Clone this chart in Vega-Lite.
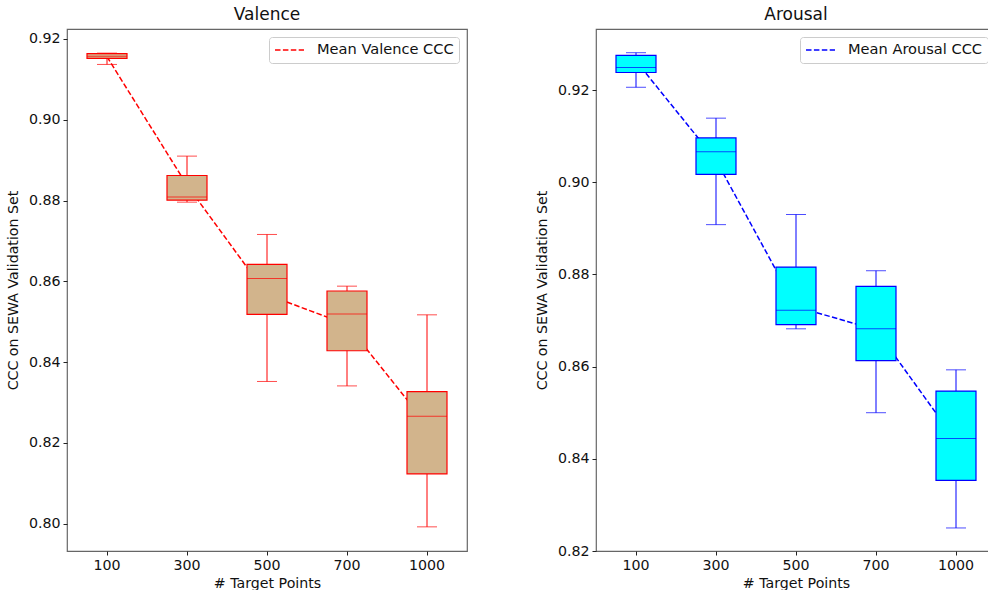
{
  "$schema": "https://vega.github.io/schema/vega-lite/v6.json",
  "background": "white",
  "padding": {"left": 5, "top": 5, "right": 0, "bottom": 0},
  "spacing": 66,
  "datasets": {
    "valence": [
      {"points": "100", "lo": 0.9137, "q1": 0.9152, "med": 0.9157, "q3": 0.9164, "hi": 0.9165, "mean": 0.9156, "series": "Mean Valence CCC"},
      {"points": "300", "lo": 0.8796, "q1": 0.8801, "med": 0.8809, "q3": 0.8862, "hi": 0.8910, "mean": 0.8838, "series": "Mean Valence CCC"},
      {"points": "500", "lo": 0.8352, "q1": 0.8518, "med": 0.8607, "q3": 0.8642, "hi": 0.8716, "mean": 0.8567, "series": "Mean Valence CCC"},
      {"points": "700", "lo": 0.8341, "q1": 0.8428, "med": 0.8519, "q3": 0.8576, "hi": 0.8588, "mean": 0.8493, "series": "Mean Valence CCC"},
      {"points": "1000", "lo": 0.7992, "q1": 0.8123, "med": 0.8266, "q3": 0.8327, "hi": 0.8517, "mean": 0.8245, "series": "Mean Valence CCC"}
    ],
    "arousal": [
      {"points": "100", "lo": 0.9206, "q1": 0.9238, "med": 0.9249, "q3": 0.9275, "hi": 0.9281, "mean": 0.9263, "series": "Mean Arousal CCC"},
      {"points": "300", "lo": 0.8908, "q1": 0.9017, "med": 0.9066, "q3": 0.9096, "hi": 0.9139, "mean": 0.9048, "series": "Mean Arousal CCC"},
      {"points": "500", "lo": 0.8682, "q1": 0.8691, "med": 0.8722, "q3": 0.8816, "hi": 0.8930, "mean": 0.8730, "series": "Mean Arousal CCC"},
      {"points": "700", "lo": 0.8500, "q1": 0.8613, "med": 0.8682, "q3": 0.8774, "hi": 0.8808, "mean": 0.8680, "series": "Mean Arousal CCC"},
      {"points": "1000", "lo": 0.8250, "q1": 0.8353, "med": 0.8444, "q3": 0.8547, "hi": 0.8593, "mean": 0.8439, "series": "Mean Arousal CCC"}
    ]
  },
  "config": {
    "font": "DejaVu Sans",
    "view": {"stroke": "#666666", "strokeWidth": 1.2},
    "axis": {
      "grid": false, "domain": false, "tickColor": "#222222", "tickSize": 4, "tickWidth": 1,
      "labelFont": "DejaVu Sans", "labelFontSize": 14.2, "labelColor": "#111111", "labelPadding": 3,
      "titleFont": "DejaVu Sans", "titleFontSize": 14.2, "titleFontWeight": "normal", "titleColor": "#111111"
    },
    "title": {"font": "DejaVu Sans", "fontSize": 17, "fontWeight": "normal", "color": "#111111", "offset": 5, "baseline": "alphabetic"},
    "legend": {
      "orient": "top-right", "offset": 8, "strokeColor": "#cccccc", "cornerRadius": 3, "padding": 5,
      "fillColor": "white", "symbolType": "stroke", "symbolSize": 840, "symbolStrokeWidth": 1.5, "clipHeight": 16,
      "symbolDash": [5.5, 2.4], "labelFont": "DejaVu Sans", "labelFontSize": 14.6, "labelColor": "#111111",
      "labelOffset": 12, "labelLimit": 400
    }
  },
  "hconcat": [
    {
      "width": 400, "height": 522,
      "title": {"text": "Valence"},
      "data": {"name": "valence"},
      "encoding": {
        "x": {"field": "points", "type": "ordinal", "sort": ["100", "300", "500", "700", "1000"],
              "scale": {"type": "band", "paddingInner": 0, "paddingOuter": 0},
              "axis": {"title": "# Target Points", "labelAngle": 0, "titlePadding": 4}}
      },
      "layer": [
        {"mark": {"type": "line", "strokeDash": [5.5, 2.4], "strokeWidth": 1.5},
         "encoding": {
           "y": {"field": "mean", "type": "quantitative",
                 "scale": {"domain": [0.79322, 0.922474], "nice": false, "zero": false},
                 "axis": {"title": "CCC on SEWA Validation Set", "values": [0.80, 0.82, 0.84, 0.86, 0.88, 0.90, 0.92], "format": ".2f", "titlePadding": 8}},
           "color": {"field": "series", "type": "nominal", "scale": {"range": ["#ff0000"]}, "legend": {"title": null}}
         }},
        {"mark": {"type": "rule", "color": "#ff0000", "strokeWidth": 1},
         "encoding": {"y": {"field": "lo", "type": "quantitative"}, "y2": {"field": "hi"}}},
        {"mark": {"type": "bar", "fill": "#d2b48c", "stroke": "#ff0000", "strokeWidth": 1.2, "width": {"band": 0.5}},
         "encoding": {"y": {"field": "q1", "type": "quantitative"}, "y2": {"field": "q3"}}},
        {"mark": {"type": "tick", "color": "#ff0000", "size": 40, "thickness": 1},
         "encoding": {"y": {"field": "med", "type": "quantitative"}}},
        {"mark": {"type": "tick", "color": "#ff0000", "size": 20, "thickness": 1},
         "encoding": {"y": {"field": "lo", "type": "quantitative"}}},
        {"mark": {"type": "tick", "color": "#ff0000", "size": 20, "thickness": 1},
         "encoding": {"y": {"field": "hi", "type": "quantitative"}}}
      ]
    },
    {
      "width": 400, "height": 522,
      "title": {"text": "Arousal"},
      "data": {"name": "arousal"},
      "encoding": {
        "x": {"field": "points", "type": "ordinal", "sort": ["100", "300", "500", "700", "1000"],
              "scale": {"type": "band", "paddingInner": 0, "paddingOuter": 0},
              "axis": {"title": "# Target Points", "labelAngle": 0, "titlePadding": 4}}
      },
      "layer": [
        {"mark": {"type": "line", "strokeDash": [5.5, 2.4], "strokeWidth": 1.5},
         "encoding": {
           "y": {"field": "mean", "type": "quantitative",
                 "scale": {"domain": [0.82, 0.93324], "nice": false, "zero": false},
                 "axis": {"title": "CCC on SEWA Validation Set", "values": [0.82, 0.84, 0.86, 0.88, 0.90, 0.92], "format": ".2f", "titlePadding": 8}},
           "color": {"field": "series", "type": "nominal", "scale": {"range": ["#0000ff"]}, "legend": {"title": null}}
         }},
        {"mark": {"type": "rule", "color": "#0000ff", "strokeWidth": 1},
         "encoding": {"y": {"field": "lo", "type": "quantitative"}, "y2": {"field": "hi"}}},
        {"mark": {"type": "bar", "fill": "#00ffff", "stroke": "#0000ff", "strokeWidth": 1.2, "width": {"band": 0.5}},
         "encoding": {"y": {"field": "q1", "type": "quantitative"}, "y2": {"field": "q3"}}},
        {"mark": {"type": "tick", "color": "#0000ff", "size": 40, "thickness": 1},
         "encoding": {"y": {"field": "med", "type": "quantitative"}}},
        {"mark": {"type": "tick", "color": "#0000ff", "size": 20, "thickness": 1},
         "encoding": {"y": {"field": "lo", "type": "quantitative"}}},
        {"mark": {"type": "tick", "color": "#0000ff", "size": 20, "thickness": 1},
         "encoding": {"y": {"field": "hi", "type": "quantitative"}}}
      ]
    }
  ],
  "resolve": {"scale": {"y": "independent", "color": "independent", "x": "independent"}, "legend": {"color": "independent"}}
}
